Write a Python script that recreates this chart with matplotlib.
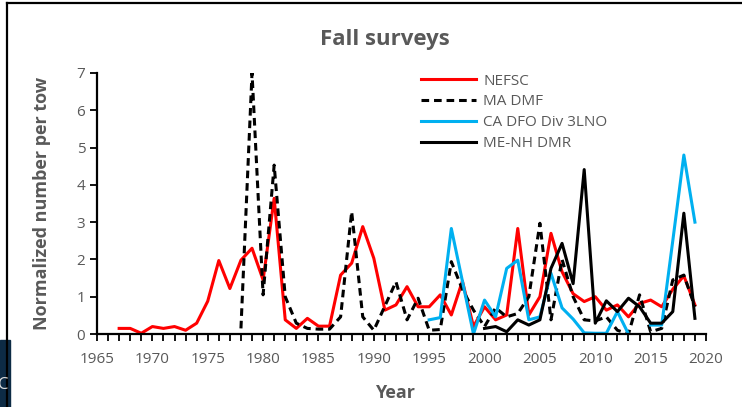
import numpy as np
import matplotlib
matplotlib.use("Agg")
import matplotlib.pyplot as plt
from matplotlib.patches import Rectangle
from matplotlib.lines import Line2D

plt.rcParams["font.family"] = ["Open Sans", "DejaVu Sans"]

# data
nefsc_years = list(range(1967, 2020))
nefsc = [0.15, 0.15, 0.02, 0.2, 0.15, 0.2, 0.1, 0.29, 0.88, 1.97,
         1.22, 1.98, 2.3, 1.45, 3.64, 0.38, 0.15, 0.42, 0.21, 0.21,
         1.58, 1.9, 2.88, 2.03, 0.64, 0.78, 1.27, 0.73, 0.73, 1.05,
         0.51, 1.42, 0.2, 0.73, 0.38, 0.51, 2.83, 0.51, 1.0, 2.7,
         1.67, 1.08, 0.87, 1.0, 0.64, 0.78, 0.46, 0.82, 0.91, 0.73,
         1.2, 1.56, 0.78]

madmf_years = list(range(1978, 2020))
madmf = [0.15, 7.0, 1.05, 4.53, 1.0, 0.29, 0.15, 0.13, 0.13, 0.46,
         3.28, 0.46, 0.1, 0.75, 1.4, 0.38, 0.96, 0.1, 0.12, 1.94,
         1.2, 0.64, 0.2, 0.7, 0.46, 0.55, 1.0, 2.97, 0.38, 2.0,
         1.0, 0.38, 0.35, 0.46, 0.1, 0.0, 1.05, 0.06, 0.15, 1.45,
         1.58, 0.73]

cadfo_years = list(range(1995, 2020))
cadfo = [0.38, 0.44, 2.83, 1.42, 0.0, 0.91, 0.46, 1.76, 1.98, 0.38,
         0.46, 1.63, 0.7, 0.4, 0.03, 0.02, 0.02, 0.6, 0.0, np.nan,
         0.24, 0.24, 2.5, 4.8, 3.0]

menh_years = list(range(2000, 2020))
menh = [0.15, 0.2, 0.06, 0.38, 0.24, 0.38, 1.76, 2.43, 1.35, 4.41,
        0.29, 0.89, 0.6, 0.96, 0.73, 0.29, 0.29, 0.6, 3.24, 0.42]

gray = "#595959"

fig = plt.figure(figsize=(7.42, 4.07), dpi=100)
ax = fig.add_axes([97 / 742, 1 - 334 / 407, 609 / 742, 261 / 407])

ax.plot(nefsc_years, nefsc, color="#FF0000", lw=2.2, label="NEFSC")
ax.plot(madmf_years, madmf, color="black", lw=2.2, dashes=(2.5, 1.6), label="MA DMF")
ax.plot(cadfo_years, cadfo, color="#00B0F0", lw=2.2, label="CA DFO Div 3LNO")
ax.plot(menh_years, menh, color="black", lw=2.2, label="ME-NH DMR")

ax.set_xlim(1965, 2020)
ax.set_ylim(0, 7)
ax.set_xticks(range(1965, 2021, 5))
ax.set_xticks(range(1965, 2021), minor=True)
ax.set_yticks(range(0, 8))

for s in ["top", "right"]:
    ax.spines[s].set_visible(False)
for s in ["left", "bottom"]:
    ax.spines[s].set_linewidth(1.6)
    ax.spines[s].set_color("black")

ax.tick_params(axis="both", which="both", direction="out", color="black",
               width=1.3, labelsize=11, labelcolor=gray)
ax.tick_params(axis="both", which="major", length=5)
ax.tick_params(axis="x", which="minor", length=5)
ax.tick_params(axis="x", which="major", pad=8)

ax.set_xlabel("Year", fontsize=13, fontweight="bold", color=gray)
ax.set_ylabel("Normalized number per tow", fontsize=13, fontweight="bold", color=gray)
ax.xaxis.set_label_coords(0.49, -0.19)
ax.yaxis.set_label_coords(-0.075, 0.5)

fig.text(385 / 742, 1 - 40 / 407, "Fall surveys", fontsize=16, fontweight="bold",
         color=gray, ha="center", va="center")

ax.legend(loc="upper left", bbox_to_anchor=(413 / 742, 1 - 66 / 407),
          bbox_transform=fig.transFigure, frameon=False, fontsize=11,
          handlelength=3.6, handletextpad=0.5, labelspacing=0.38,
          borderpad=0, labelcolor=gray)

# slide frame remnants
fig.add_artist(Line2D([7 / 742, 1], [1 - 3 / 407, 1 - 3 / 407], color="black", lw=1.6))
fig.add_artist(Line2D([7 / 742, 7 / 742], [0, 1 - 3 / 407], color="black", lw=1.6))
fig.add_artist(Rectangle((0, 0), 10 / 742, 67 / 407, color="#0d2b45"))
fig.text(-2 / 742, 1 - 385 / 407, "C", fontsize=12, color="#dddddd", va="center")

fig.savefig("out.png", dpi=100)
